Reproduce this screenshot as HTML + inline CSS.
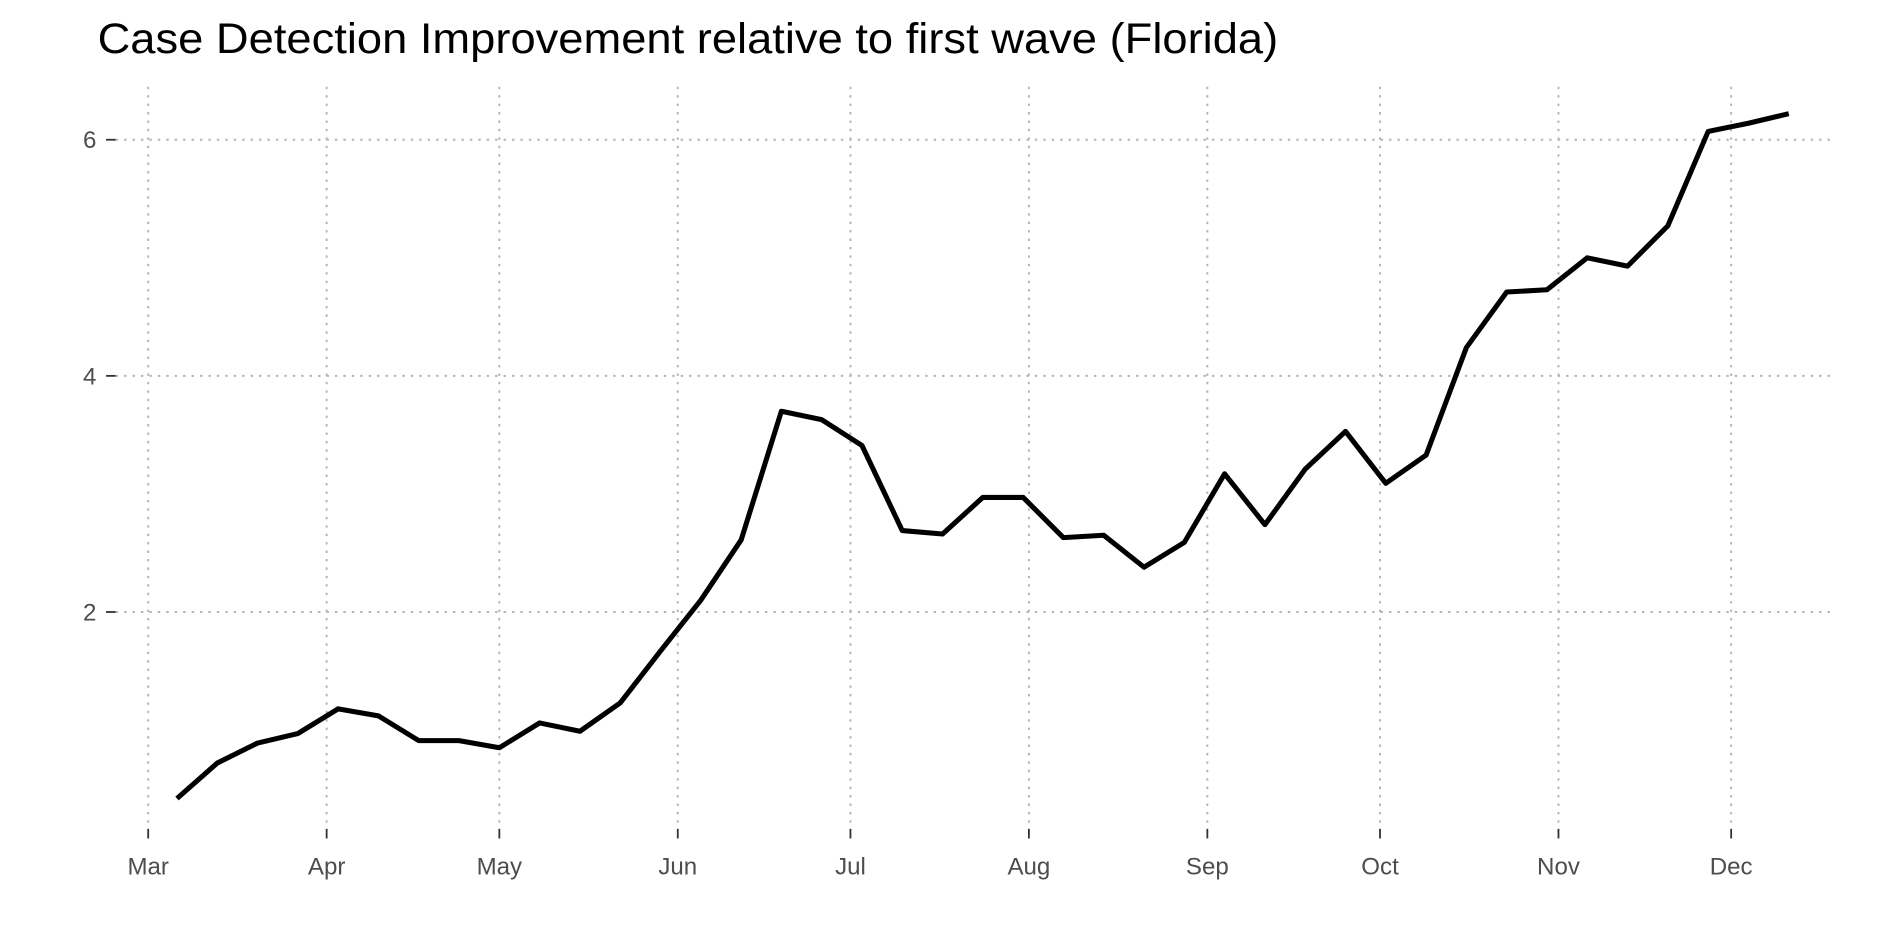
<!DOCTYPE html>
<html><head><meta charset="utf-8"><style>
html,body{margin:0;padding:0;background:#fff;width:1889px;height:944px;overflow:hidden}
svg{display:block;font-family:"Liberation Sans",Arial,sans-serif}
</style></head><body>
<svg id="chart" width="1889" height="944" viewBox="0 0 1568 783.6" xmlns="http://www.w3.org/2000/svg">
<text x="81" y="44" font-size="35" fill="#000" textLength="980" lengthAdjust="spacingAndGlyphs">Case Detection Improvement relative to first wave (Florida)</text>
<g id="grid"></g>
<g id="axes"></g>
<g id="series"></g>
</svg>
<script>
const monthLabels=["Mar","Apr","May","Jun","Jul","Aug","Sep","Oct","Nov","Dec"];
const monthDays=[0,31,61,92,122,153,184,214,245,275];
const yTicks=[2,4,6];
const values=[0.42,0.72,0.89,0.97,1.18,1.12,0.91,0.91,0.85,1.06,0.99,1.23,1.67,2.10,2.61,3.70,3.63,3.41,2.69,2.66,2.97,2.97,2.63,2.65,2.38,2.59,3.17,2.74,3.21,3.53,3.09,3.33,4.24,4.71,4.73,5.00,4.93,5.27,6.07,6.14,6.22];
const firstDay=5, stepDays=7;
const NS="http://www.w3.org/2000/svg";
const xs=d=>123+d*(1314/275);
const ys=v=>704-v*98;
function mk(tag,attrs,parent){const e=document.createElementNS(NS,tag);for(const k in attrs)e.setAttribute(k,attrs[k]);parent.appendChild(e);return e;}
const grid=document.getElementById('grid'),axes=document.getElementById('axes'),series=document.getElementById('series');
monthDays.forEach((d,i)=>{
  const x=xs(d);
  const g=mk('line',{x1:x,x2:x,y1:72,y2:688,stroke:'#b3b3b3','stroke-width':1.6,'stroke-dasharray':'2 5'},grid);
  
  
  const t=mk('line',{x1:x,x2:x,y1:688,y2:696,stroke:'#333','stroke-width':1.5},axes);
  
  
  const l=mk('text',{x:x,y:726,'font-size':20,fill:'#4d4d4d','text-anchor':'middle'},axes);
  l.textContent=monthLabels[i];
  
  
});
yTicks.forEach(v=>{
  const y=ys(v);
  const g=mk('line',{x1:96,x2:1522,y1:y,y2:y,stroke:'#b3b3b3','stroke-width':1.6,'stroke-dasharray':'2 5'},grid);
  
  
  const t=mk('line',{x1:88,x2:96,y1:y,y2:y,stroke:'#333','stroke-width':1.5},axes);
  
  
  const l=mk('text',{x:80,y:y+7,'font-size':20,fill:'#4d4d4d','text-anchor':'end'},axes);
  l.textContent=v;
  
  
});
const pts=values.map((v,i)=>xs(firstDay+i*stepDays).toFixed(1)+','+ys(v).toFixed(1)).join(' ');
const line=mk('polyline',{points:pts,fill:'none',stroke:'#000','stroke-width':4.2,'stroke-linejoin':'round'},series);


</script>
</body></html>
